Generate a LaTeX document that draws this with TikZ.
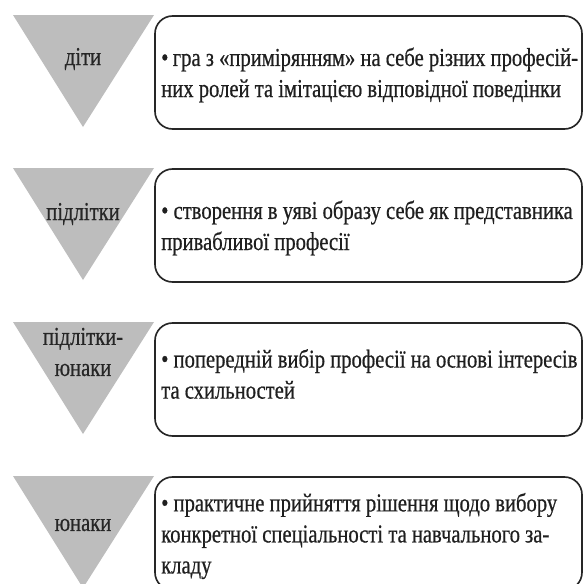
\documentclass[tikz,border=0pt]{standalone}
\usepackage{fontspec}
\setmainfont{Liberation Serif}[FakeStretch=0.80, FakeBold=0.6]
\usepackage{tikz}

\tikzset{
    agetri/.style={fill=black!26},
    stagebox/.style={draw=black!85, line width=1.4pt, rounded corners=15pt},
    agelabel/.style={text=black!85, align=center, inner sep=0pt},
    stagetext/.style={text=black!88, align=left, anchor=west, inner sep=0pt}
}

\begin{document}
\begin{tikzpicture}[x=0.03cm, y=-0.03cm, font=\fontsize{22}{26.5}\selectfont]
        \useasboundingbox (0,0) rectangle (585,583);
        \clip (0,0) rectangle (585,583);

        % triangles and boxes, one row every 154 px
        \foreach \top in {15, 168, 322, 476} {
            \fill [agetri] (13,\top) -- (154,\top) -- (83,\top+112) -- cycle;
            \draw [stagebox] (155,\top+1) rectangle (582,\top+114);
        }

        \draw (83,59) node[agelabel] (age1) {діти};
        \draw (83,214) node[agelabel] (age2) {підлітки};
        \draw (83,352) node[agelabel] (age3) {підлітки-\\юнаки};
        \draw (83,525) node[agelabel] (age4) {юнаки};

        \draw (161,75) node[stagetext] (stage1) {•\,гра з «примірянням» на себе різних професій-\\них ролей та імітацією відповідної поведінки};
        \draw (161,228) node[stagetext] (stage2) {• створення в уяві образу себе як представника\\привабливої професії};
        \draw (161,374) node[stagetext] (stage3) {• попередній вибір професії на основі інтересів\\та схильностей};
        \draw (161,536) node[stagetext] (stage4) {• практичне прийняття рішення щодо вибору\\конкретної спеціальності та навчального за-\\кладу};
    \end{tikzpicture}
\end{document}
